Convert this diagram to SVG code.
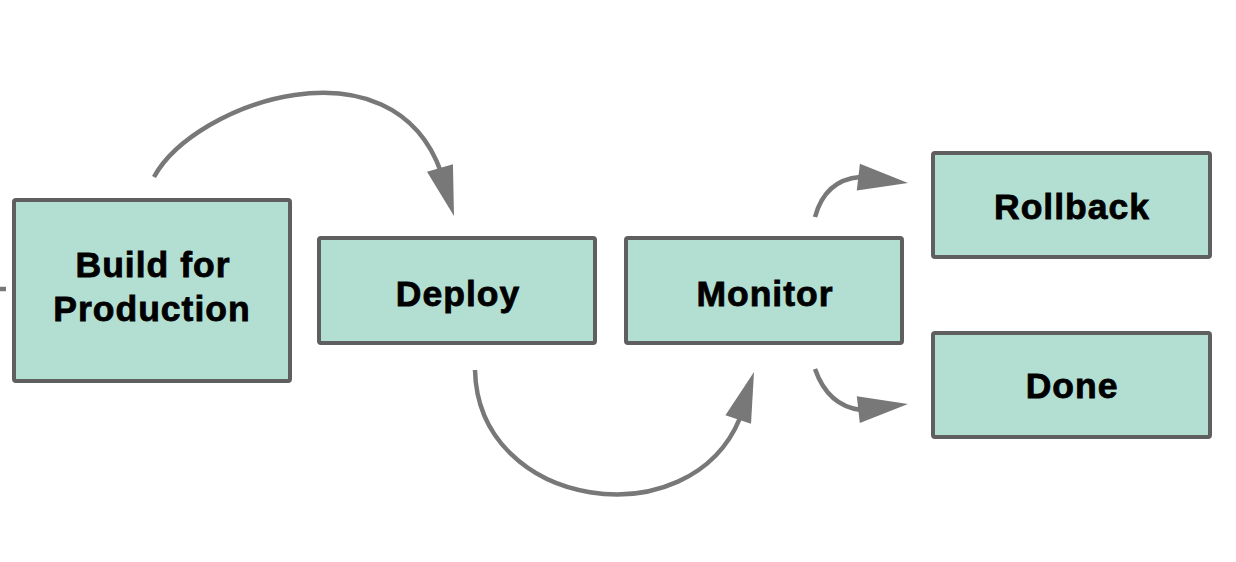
<svg xmlns="http://www.w3.org/2000/svg" xmlns:xlink="http://www.w3.org/1999/xlink" width="1236" height="562" viewBox="0 0 1236 562">
<style>
.box{fill:#b3dfd3;stroke:#5f5f5f;stroke-width:4}
.lbl{font-family:"Liberation Sans",Arial,Helvetica,sans-serif;font-weight:bold;font-size:35.5px;letter-spacing:1px;fill:#000;stroke:#000;stroke-width:0.8px;text-anchor:middle}
.edge{fill:none;stroke:#787878;stroke-width:4.5}
.head{fill:#787878}
</style>
<defs>
<path id="ah" d="M0,0 L-50,-13.5 L-50,13.5 Z"/>
</defs>
<rect width="1236" height="562" fill="#ffffff"/>
<g id="connectors">
<line class="edge" x1="-2" y1="289" x2="6" y2="289" stroke-width="2"/>
<path class="edge" d="M154,177 C195,102 392,35 441,172"/>
<use xlink:href="#ah" class="head" transform="translate(454,216) rotate(73.7)"/>
<path class="edge" d="M475,370 C478,510 690,540 740,418"/>
<use xlink:href="#ah" class="head" transform="translate(754,372) rotate(-71.6)"/>
<path class="edge" d="M815,217 Q825,180 860,177"/>
<use xlink:href="#ah" class="head" transform="translate(908,183) rotate(6.7)"/>
<path class="edge" d="M815,369 Q828,406 861,410"/>
<use xlink:href="#ah" class="head" transform="translate(908,404) rotate(-6.4)"/>
</g>
<g id="build">
<rect class="box" x="14" y="200" width="276" height="181" rx="2"/>
<text class="lbl" x="153" y="277">Build for</text>
<text class="lbl" x="152" y="321">Production</text>
</g>
<g id="deploy">
<rect class="box" x="319" y="238" width="276" height="105" rx="2"/>
<text class="lbl" x="458" y="306">Deploy</text>
</g>
<g id="monitor">
<rect class="box" x="626" y="238" width="276" height="105" rx="2"/>
<text class="lbl" x="765" y="306">Monitor</text>
</g>
<g id="rollback">
<rect class="box" x="933" y="153" width="277" height="104" rx="2"/>
<text class="lbl" x="1072" y="219">Rollback</text>
</g>
<g id="done">
<rect class="box" x="933" y="333" width="277" height="104" rx="2"/>
<text class="lbl" x="1072" y="398">Done</text>
</g>
</svg>
